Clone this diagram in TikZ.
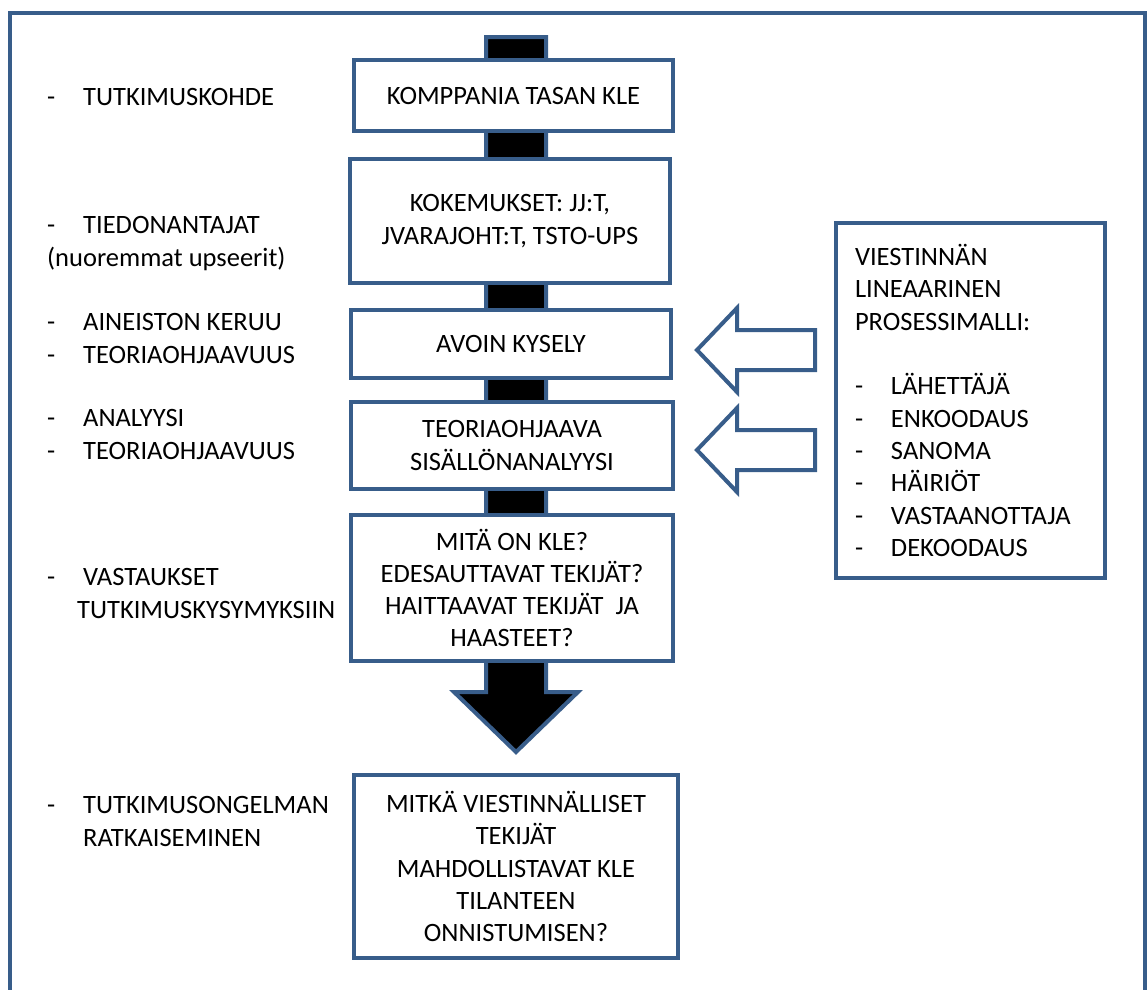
\documentclass[tikz,border=0pt]{standalone}
\usepackage{fontspec}
\setmainfont{Carlito}
\usepackage{tikz}
\definecolor{kleblue}{RGB}{56,93,138}
\newcommand{\itm}{\makebox[36pt][l]{-}}

\begin{document}
\begin{tikzpicture}[x=1pt, y=-1pt, font=\fontsize{26.5}{32.3}\selectfont,
  box/.style={draw=kleblue, line width=4pt, fill=white, align=center, inner sep=0pt},
  side/.style={anchor=north west, align=left, inner sep=0pt},
  hollow/.style={draw=kleblue, line width=4pt, fill=white, line join=miter}]
  \useasboundingbox (0,0) rectangle (1148,989);
  \draw[kleblue, line width=4.5pt] (10,1000) -- (10,13) -- (1145,13) -- (1145,1000);

  % spine with the big arrow at its end
  \draw[draw=kleblue, fill=black, line width=4pt] (486,37) -- (546,37) -- (546,692) -- (578,692)
    -- (516,752) -- (454,692) -- (486,692) -- cycle;

  \node[box, minimum width=319pt, minimum height=71pt] (kle) at (513.5,95.5) {KOMPPANIA TASAN KLE};
  \node[box, minimum width=320pt, minimum height=124pt] (kokemus) at (510,221) {KOKEMUKSET: JJ:T,\\JVARAJOHT:T, TSTO-UPS};
  \node[box, minimum width=320pt, minimum height=68pt] (kysely) at (511,344) {AVOIN KYSELY};
  \node[box, minimum width=322pt, minimum height=87pt] (sisalto) at (512,445.5) {TEORIAOHJAAVA\\SISÄLLÖNANALYYSI};
  \node[box, minimum width=322pt, minimum height=146pt] (vastaukset) at (512,588) {MITÄ ON KLE?\\EDESAUTTAVAT TEKIJÄT?\\HAITTAAVAT TEKIJÄT\ \ JA\\HAASTEET?};
  \node[box, minimum width=324pt, minimum height=183pt] (ratkaisu) at (516,866.5) {MITKÄ VIESTINNÄLLISET\\TEKIJÄT\\MAHDOLLISTAVAT KLE\\TILANTEEN\\ONNISTUMISEN?};

  \node[box, minimum width=269pt, minimum height=355pt, align=left, text width=231pt] (malli) at (970.5,400.5)
    {VIESTINNÄN\\LINEAARINEN\\PROSESSIMALLI:\\[32.3pt]\itm LÄHETTÄJÄ\\\itm ENKOODAUS\\\itm SANOMA\\\itm HÄIRIÖT\\\itm VASTAANOTTAJA\\\itm DEKOODAUS};

  % hollow arrows from the model
  \foreach \y in {350,450}
    \draw[hollow] (697,\y) -- (737,\y-42) -- (737,\y-20) -- (815,\y-20) -- (815,\y+20)
      -- (737,\y+20) -- (737,\y+42) -- cycle;

  \node[side] (kohde) at (47,88.5) {\itm TUTKIMUSKOHDE};
  \node[side] (tiedon) at (47,216.5) {\itm TIEDONANTAJAT\\(nuoremmat upseerit)};
  \node[side] (keruu) at (47,313.5) {\itm AINEISTON KERUU\\\itm TEORIAOHJAAVUUS};
  \node[side] (analyysi) at (47,409.5) {\itm ANALYYSI\\\itm TEORIAOHJAAVUUS};
  \node[side] (vastaus) at (47,568.5) {\itm VASTAUKSET\\\hspace*{30pt}TUTKIMUSKYSYMYKSIIN};
  \node[side] (ongelma) at (47,796.5) {\itm TUTKIMUSONGELMAN\\\hspace*{36pt}RATKAISEMINEN};
\end{tikzpicture}
\end{document}
